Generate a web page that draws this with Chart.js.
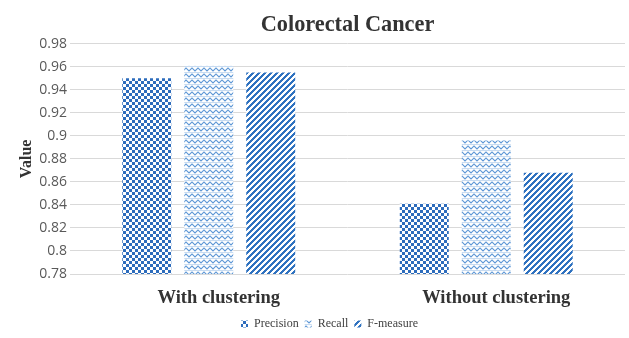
<!DOCTYPE html>
<html>
<head>
<meta charset="utf-8">
<script src="https://cdn.jsdelivr.net/npm/chart.js@4/dist/chart.umd.min.js"></script>
<style>
  html, body { margin: 0; padding: 0; background: #fff; }
  #wrap { width: 629px; height: 338px; position: relative; }
</style>
</head>
<body>
<div id="wrap"><canvas id="c"></canvas></div>
<script>
// Categories, series and axis ticks
const categories = ['With clustering', 'Without clustering'];
const precision = [0.95, 0.841];
const recall = [0.961, 0.896];
const fMeasure = [0.955, 0.868];
const yTicks = [0.78, 0.8, 0.82, 0.84, 0.86, 0.88, 0.9, 0.92, 0.94, 0.96, 0.98];

// Build small repeating tiles used as bar fills
function makeTile(size, paint) {
  const cv = document.createElement('canvas');
  cv.width = size; cv.height = size;
  const cx = cv.getContext('2d');
  cx.fillStyle = '#fff';
  cx.fillRect(0, 0, size, size);
  paint(cx, size);
  return cx.createPattern(cv, 'repeat');
}

const ctxMain = document.getElementById('c').getContext('2d');

// checkerboard
const checker = makeTile(6, (cx) => {
  cx.fillStyle = '#2d6cbc';
  cx.fillRect(0, 0, 3, 3);
  cx.fillRect(3, 3, 3, 3);
});

// zigzag waves
const zigzag = makeTile(6, (cx) => {
  cx.strokeStyle = '#5f98d6';
  cx.lineWidth = 1.1;
  cx.beginPath();
  cx.moveTo(-1.5, 3.5); cx.lineTo(0, 2); cx.lineTo(3, 5); cx.lineTo(6, 2); cx.lineTo(7.5, 3.5);
  cx.stroke();
  cx.strokeStyle = 'rgba(95,152,214,0.35)';
  cx.beginPath();
  cx.moveTo(0, 0.5); cx.lineTo(6, 0.5);
  cx.stroke();
});

// wide upward diagonal stripes
const stripes = makeTile(6, (cx, n) => {
  const img = cx.getImageData(0, 0, n, n);
  for (let y = 0; y < n; y++) {
    for (let x = 0; x < n; x++) {
      if ((x + y) % n < 3) {
        const i = (y * n + x) * 4;
        img.data[i] = 0x2f; img.data[i + 1] = 0x72; img.data[i + 2] = 0xc0; img.data[i + 3] = 255;
      }
    }
  }
  cx.putImageData(img, 0, 0);
});

// Center the title over the plotting area and nudge the legend
const placeBlocks = {
  id: 'placeBlocks',
  afterLayout(chart) {
    const t = chart.titleBlock;
    if (t) { t.left = chart.chartArea.left; t.right = chart.chartArea.right; t.width = t.right - t.left; }
    const l = chart.legend;
    if (l) { l.left += 34; l.width = l.right - l.left; l.top += 2; l.bottom += 2; }
  }
};

const serif = '"Liberation Serif", "Times New Roman", serif';

new Chart(ctxMain, {
  type: 'bar',
  data: {
    labels: categories,
    datasets: [
      { label: 'Precision', data: precision, backgroundColor: checker, borderWidth: 0 },
      { label: 'Recall', data: recall, backgroundColor: zigzag, borderWidth: 0 },
      { label: 'F-measure', data: fMeasure, backgroundColor: stripes, borderWidth: 0 }
    ]
  },
  options: {
    responsive: true,
    maintainAspectRatio: false,
    animation: false,
    devicePixelRatio: 1,
    layout: { padding: { top: 12, right: 4, left: 0, bottom: 0 } },
    datasets: { bar: { categoryPercentage: 0.67, barPercentage: 0.79 } },
    plugins: {
      title: {
        display: true,
        text: 'Colorectal Cancer',
        color: '#333333',
        font: { family: serif, size: 22.3, weight: 'bold' },
        padding: { top: 0, bottom: 5 }
      },
      legend: {
        position: 'bottom',
        labels: {
          boxWidth: 7, boxHeight: 7,
          padding: 6,
          color: '#404040',
          font: { family: serif, size: 12 }
        }
      },
      tooltip: { enabled: false }
    },
    scales: {
      x: {
        grid: { display: false },
        border: { display: false },
        afterFit(scale) { scale.height = 36; },
        ticks: {
          color: '#333333',
          labelOffset: 10,
          padding: 5,
          font: { family: serif, size: 18.5, weight: 'bold' }
        }
      },
      y: {
        min: 0.78,
        max: 0.98,
        afterBuildTicks(scale) { scale.ticks = yTicks.map(v => ({ value: v })); },
        afterFit(scale) { scale.width = 70; },
        grid: { color: '#d9d9d9', lineWidth: 1, drawTicks: false },
        border: { display: false },
        ticks: {
          color: '#595959',
          padding: 3,
          font: { family: '"Open Sans", sans-serif', size: 14 },
          callback: (v) => String(Math.round(v * 100) / 100)
        },
        title: {
          display: true,
          text: 'Value',
          color: '#333333',
          padding: { top: 17, bottom: 0 },
          font: { family: serif, size: 16, weight: 'bold' }
        }
      }
    }
  },
  plugins: [placeBlocks]
});
</script>
</body>
</html>
